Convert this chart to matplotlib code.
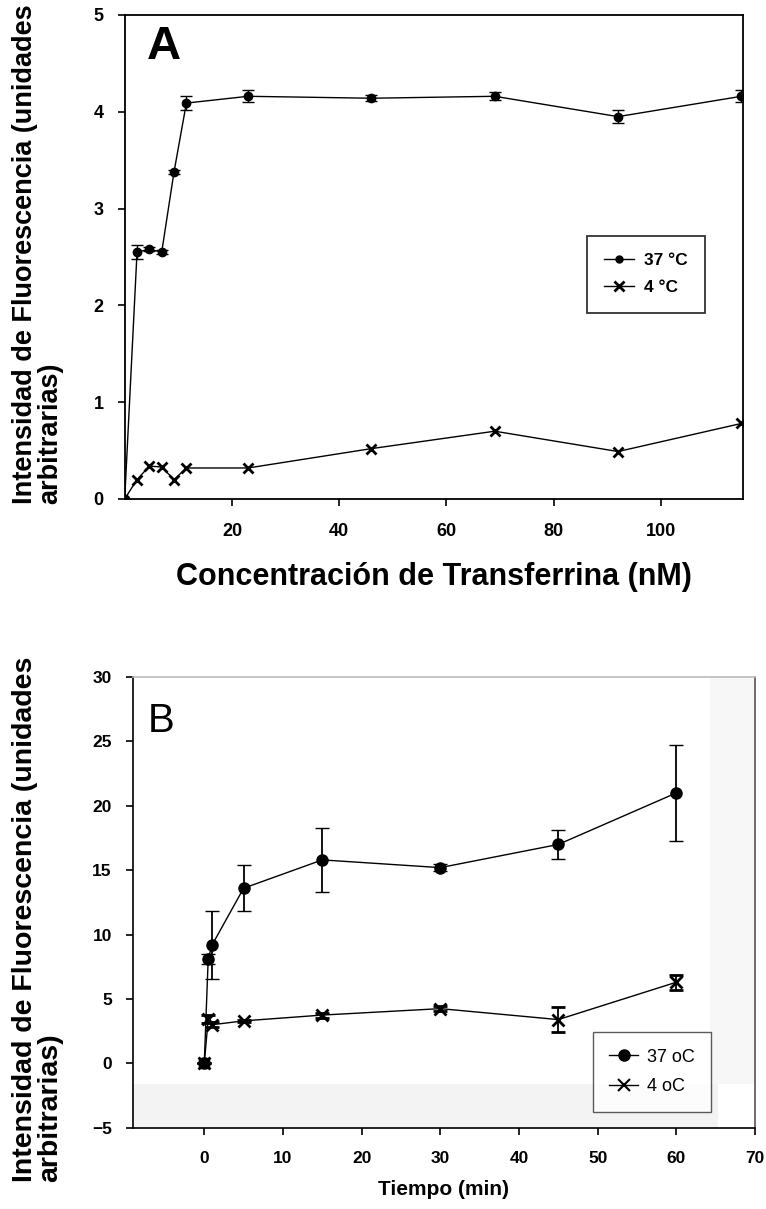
import matplotlib
matplotlib.use("Agg")
import matplotlib.pyplot as plt
from matplotlib.lines import Line2D
from matplotlib.patches import Rectangle
import numpy as np

plt.rcParams['font.family'] = ['Liberation Sans', 'DejaVu Sans']

# Panel A data
conc_nM = [0, 2.3, 4.6, 6.9, 9.2, 11.5, 23, 46, 69, 92, 115]
a_37 = [0, 2.55, 2.58, 2.55, 3.38, 4.09, 4.16, 4.14, 4.16, 3.95, 4.16]
a_37_err = [0, 0.07, 0.02, 0.02, 0.02, 0.07, 0.06, 0.03, 0.04, 0.07, 0.06]
a_4 = [0, 0.20, 0.34, 0.33, 0.20, 0.32, 0.32, 0.52, 0.70, 0.49, 0.78]
a_4_err = [0, 0.01, 0.01, 0.01, 0.01, 0.01, 0.01, 0.01, 0.01, 0.01, 0.01]
a_xticks = [20, 40, 60, 80, 100]
a_yticks = [0, 1, 2, 3, 4, 5]

# Panel B data
time_min = [0, 0.5, 1, 5, 15, 30, 45, 60]
b_37 = [0, 8.1, 9.2, 13.6, 15.8, 15.2, 17.0, 21.0]
b_37_err = [0, 0.4, 2.65, 1.8, 2.5, 0.3, 1.1, 3.75]
b_4 = [0, 3.45, 3.0, 3.3, 3.75, 4.25, 3.4, 6.3]
b_4_err = [0, 0.3, 0.2, 0.1, 0.2, 0.2, 1.0, 0.6]
b_xticks = [0, 10, 20, 30, 40, 50, 60, 70]
b_yticks = [-5, 0, 5, 10, 15, 20, 25, 30]

ylabel = "Intensidad de Fluorescencia (unidades\narbitrarias)"

fig = plt.figure(figsize=(7.66, 12.09), dpi=100)

# ---------- Panel A ----------
axA = fig.add_axes([0.1628, 0.5873, 0.9700 - 0.1628, 0.9876 - 0.5873])
axA.errorbar(conc_nM, a_37, yerr=a_37_err, color='black', lw=1.0, marker='o',
             ms=6, capsize=4, elinewidth=1.0)
axA.errorbar(conc_nM[1:], a_4[1:], yerr=a_4_err[1:], color='black', lw=1.0, marker='x',
             ms=7, mew=2, capsize=0, elinewidth=1.0)
axA.plot(conc_nM[:2], a_4[:2], color='black', lw=1.0)
axA.set_xlim(0, 115.3)
axA.set_ylim(0, 5)
axA.set_xticks(a_xticks)
axA.set_yticks(a_yticks)
axA.tick_params(direction='out', length=5, width=1.2, labelsize=13)
axA.tick_params(axis='x', pad=12)
axA.tick_params(axis='y', pad=10)
for lab in axA.get_xticklabels() + axA.get_yticklabels():
    lab.set_fontweight('bold')
for s in axA.spines.values():
    s.set_linewidth(1.3)
axA.set_xlabel("Concentración de Transferrina (nM)", fontsize=22, fontweight='bold', labelpad=16)
axA.text(0.035, 0.980, "A", transform=axA.transAxes, fontsize=34, fontweight='bold',
         va='top', ha='left')
hA = [Line2D([], [], color='black', lw=1.0, marker='o', ms=5),
      Line2D([], [], color='black', lw=1.0, marker='x', ms=7, mew=2)]
legA = axA.legend(hA, ['37 °C', '4 °C'], loc='upper left', bbox_to_anchor=(0.7335, 0.562),
                  frameon=True, fancybox=False, edgecolor='black', handlelength=1.7,
                  handletextpad=0.6, borderpad=1.0, labelspacing=0.7,
                  prop={'weight': 'bold', 'size': 12.5})
legA.get_frame().set_linewidth(1.3)
fig.text(0.049, 0.7900, ylabel, rotation=90, ha='center', va='center',
         fontsize=19.5, fontweight='bold', linespacing=0.95, multialignment='left')

# ---------- Panel B ----------
axB = fig.add_axes([0.1732, 0.0672, 0.9856 - 0.1732, 0.4400 - 0.0672])
# faint scan shading
axB.add_patch(Rectangle((0, 0), 0.94, 0.097, transform=axB.transAxes, color='#f3f3f3',
                        lw=0, zorder=0))
axB.add_patch(Rectangle((0.928, 0.097), 0.072, 0.903, transform=axB.transAxes, color='#f7f7f7',
                        lw=0, zorder=0))
axB.errorbar(time_min, b_37, yerr=b_37_err, color='black', lw=1.0, marker='o',
             ms=8, capsize=5, elinewidth=1.3)
axB.errorbar(time_min, b_4, yerr=b_4_err, color='black', lw=1.0, marker='x',
             ms=8, mew=2, capsize=5, elinewidth=1.3)
axB.plot([0], [0], marker='s', ms=7, color='black', lw=0)
axB.set_xlim(-9.1, 70)
axB.set_ylim(-5, 30)
axB.set_xticks(b_xticks)
axB.set_yticks(b_yticks)
axB.tick_params(direction='out', length=5, width=1.2, labelsize=12.5)
axB.tick_params(axis='x', pad=12)
axB.tick_params(axis='y', pad=10)
for lab in axB.get_xticklabels() + axB.get_yticklabels():
    lab.set_fontweight('bold')
for s in axB.spines.values():
    s.set_linewidth(1.2)
axB.spines['top'].set_color('#bbbbbb')
axB.spines['right'].set_color('#555555')
axB.set_xlabel("Tiempo (min)", fontsize=15, fontweight='bold', labelpad=10)
axB.text(0.024, 0.945, "B", transform=axB.transAxes, fontsize=29,
         va='top', ha='left')
hB = [Line2D([], [], color='black', lw=1.0, marker='o', ms=8),
      Line2D([], [], color='black', lw=1.0, marker='x', ms=8, mew=1.5)]
legB = axB.legend(hB, ['37 oC', '4 oC'], loc='lower left', bbox_to_anchor=(0.7395, 0.036),
                  borderaxespad=0.0,
                  frameon=True, fancybox=False, edgecolor='#333333', handlelength=1.6,
                  handletextpad=0.5, borderpad=0.9, labelspacing=0.7, prop={'size': 13})
legB.get_frame().set_linewidth(1.0)
fig.text(0.049, 0.2400, ylabel, rotation=90, ha='center', va='center',
         fontsize=20.5, fontweight='bold', linespacing=0.95, multialignment='left')

fig.savefig("out.png", dpi=100)
